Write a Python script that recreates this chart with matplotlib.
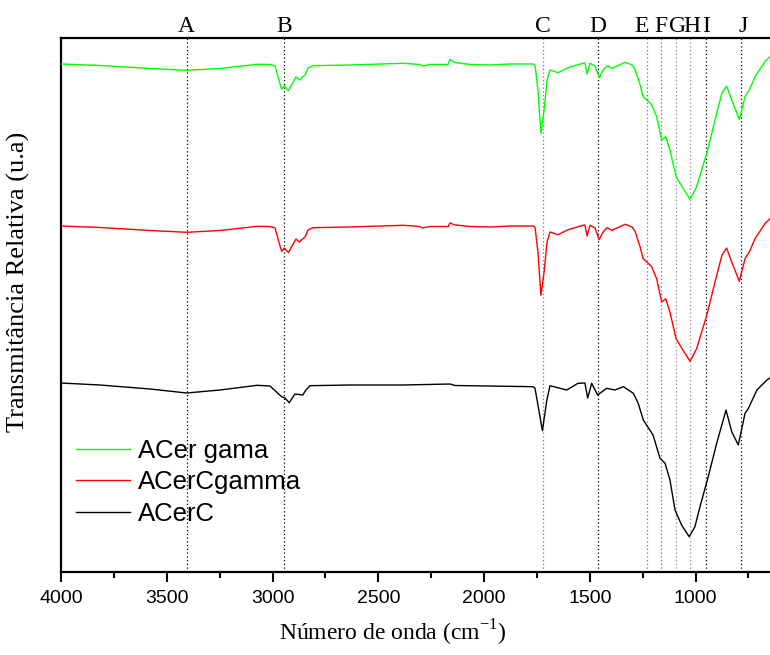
import matplotlib.pyplot as plt

# wavenumbers (cm-1) and relative transmittance (a.u.)
wn_g = [4000, 3816, 3579, 3406, 3248, 3073, 3012, 2988, 2970, 2957, 2944, 2925, 2908,
        2889, 2873, 2862, 2846, 2832, 2809, 2634, 2383, 2303, 2293, 2255, 2170, 2161,
        2137, 2066, 1972, 1877, 1768, 1759, 1745, 1731, 1716, 1702, 1688, 1650, 1603,
        1532, 1523, 1513, 1499, 1475, 1456, 1437, 1418, 1395, 1333, 1300, 1286, 1262,
        1248, 1225, 1207, 1184, 1160, 1141, 1121, 1092, 1059, 1026, 995, 947, 900, 875,
        853, 829, 793, 766, 742, 719, 672, 648]
acer_gama = [508, 506.5, 503.5, 501.7, 503.5, 507.7, 507.5, 506, 492, 482.7, 486, 481.3, 488,
             495, 492, 494.3, 497, 504, 506.3, 507, 508.7, 507.5, 506, 507.5, 507.5, 512.7,
             509.5, 507.5, 507, 508, 508, 507, 482, 438.7, 462, 492, 502, 499.3, 504.3,
             508.7, 509, 498, 508.7, 506, 494.3, 502, 506.3, 503.7, 509.7, 507, 502.7, 487,
             475.3, 471, 467, 455.3, 432, 435.3, 422, 395.3, 383.7, 372.7, 385.3, 418.7, 458.7, 479,
             486, 472, 452.7, 475.3, 483.7, 495.3, 510.3, 515.3]
acer_cgamma = [346, 344.5, 341.5, 339.7, 341.5, 345.7, 345.5, 344, 330, 320.7, 324, 319.3, 326,
               333, 330, 332.3, 335, 342, 344.3, 345, 346.7, 345.5, 344, 345.5, 345.5, 349,
               347, 345.5, 345, 346, 346, 345, 320, 276.7, 300, 330, 340, 337.3, 342.3,
               346.7, 347, 336, 346.7, 344, 332.3, 340, 344.3, 341.7, 347.7, 345, 340.7, 325,
               313.3, 309, 305, 293.3, 270, 273.3, 260, 233.3, 221.7, 210.7, 223.3, 256.7, 296.7, 317,
               324, 310, 290.7, 313.3, 321.7, 333.3, 348.3, 353.3]

wn_c = [4000, 3816, 3579, 3406, 3248, 3073, 3012, 2957, 2941, 2921, 2894, 2857, 2842, 2823,
        2634, 2383, 2161, 2137, 1768, 1759, 1745, 1724, 1703, 1688, 1641, 1609, 1556, 1523,
        1510, 1491, 1463, 1420, 1381, 1341, 1294, 1271, 1247, 1201, 1168, 1144, 1121, 1097,
        1066, 1030, 1003, 979, 940, 900, 856, 829, 798, 766, 750, 710, 663, 648]
acer_c = [189, 187, 183, 179, 182, 186.7, 186, 175.3, 174, 169.3, 178, 177, 182, 186.3,
          187, 187, 188, 186.5, 185.3, 183.7, 167, 141.3, 172, 186.3, 183.7, 182, 188.7, 189,
          174, 188.7, 177, 183.7, 182, 185.3, 178.7, 168.7, 152, 137, 113.7, 108.7, 92, 62,
          47, 35.3, 45.3, 65.3, 95.3, 128.7, 162, 140.3, 127, 158.7, 163.7, 182, 192, 194]

peak_labels = ['A', 'B', 'C', 'D', 'E', 'F', 'G', 'H', 'I', 'J']
peak_wn = [3406, 2944, 1720, 1461, 1231, 1163, 1092, 1026, 949, 786]
line_colors = ['k', 'k', '0.45', 'k', '0.45', '0.45', '0.55', '0.55', 'k', 'k']
label_shift = [0, 0, 0, 0, 23, 0, -9, -8, 0, -12]

fig = plt.figure(figsize=(7.7, 6.55), dpi=100)
ax = fig.add_axes([0.0792, 0.1267, 0.9208, 0.8153])

for w, c in zip(peak_wn, line_colors):
    ax.axvline(w, color=c, ls=(0, (1, 2)), lw=0.9, zorder=1)

ax.plot(wn_g, acer_gama, color='#00ff00', lw=1.0, label='ACer gama', zorder=3)
ax.plot(wn_g, acer_cgamma, color='#ff0000', lw=1.0, label='ACerCgamma', zorder=3)
ax.plot(wn_c, acer_c, color='k', lw=1.0, label='ACerC', zorder=3)

for lab, w, s in zip(peak_labels, peak_wn, label_shift):
    ax.text(w + s, 1.0118, lab, transform=ax.get_xaxis_transform(), ha='center',
            va='baseline', fontsize=17, family='Liberation Serif')

ax.set_xlim(4000, 648)
ax.set_ylim(0, 534)
ax.set_xticks([4000, 3500, 3000, 2500, 2000, 1500, 1000])
ax.set_xticks([3750, 3250, 2750, 2250, 1750, 1250, 750], minor=True)
ax.set_yticks([])
ax.tick_params(axis='x', which='major', direction='out', length=7, width=1.5, pad=6,
               labelsize=14)
ax.tick_params(axis='x', which='minor', direction='out', length=4, width=1.5)
for lbl in ax.get_xticklabels():
    lbl.set_family('Liberation Sans')
for sp in ['top', 'left', 'bottom']:
    ax.spines[sp].set_linewidth(1.6)
ax.spines['right'].set_visible(False)

ax.set_xlabel('Número de onda (cm$^{\\mathregular{-1}}$)', fontsize=17, family='Liberation Serif')
ax.xaxis.set_label_coords(0.468, -0.085)
ax.set_ylabel('Transmitância Relativa (u.a)', fontsize=19, family='Liberation Serif')
ax.yaxis.set_label_coords(-0.043, 0.543)

leg = ax.legend(loc='upper left', bbox_to_anchor=(0.021, 0.25), frameon=False,
                prop={'family': 'Liberation Sans', 'size': 18.5}, handlelength=2.1,
                handletextpad=0.33, labelspacing=0.3, borderpad=0, borderaxespad=0)

plt.savefig('out.png', dpi=100)
plt.close()
